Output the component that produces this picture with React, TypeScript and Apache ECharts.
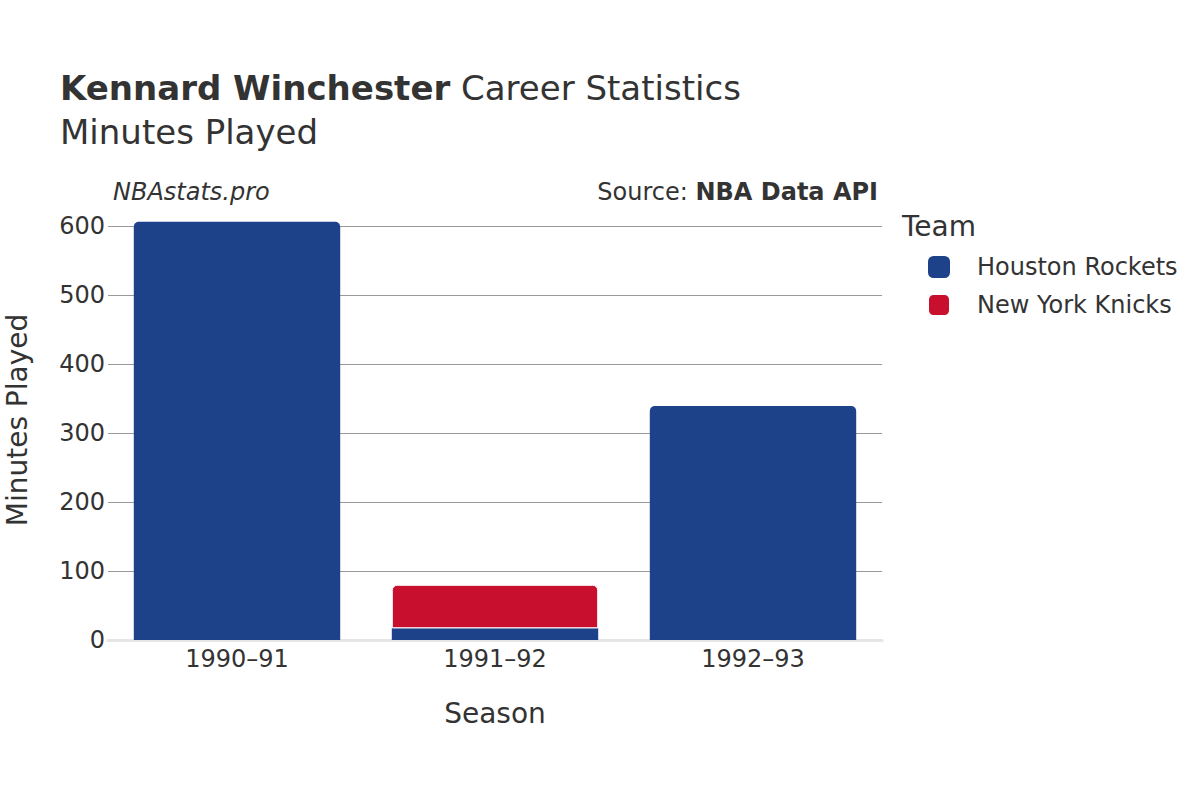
import React, { useEffect, useRef } from "react";
import * as echarts from "echarts";

const seasons = ["1990–91", "1991–92", "1992–93"];
const houston = [606, 17, 339];
const knicks = [0, 63, 0];
const yTicks = [0, 100, 200, 300, 400, 500, 600];

const FONT = "DejaVu Sans";

export default function App() {
  const ref = useRef<HTMLDivElement>(null);
  useEffect(() => {
    if (!ref.current) return;
    const chart = echarts.init(ref.current, null, { renderer: "svg" });
    const option: any = {
      animation: false,
      textStyle: { fontFamily: FONT },
      grid: { left: 108, right: 318, top: 226, bottom: 160, containLabel: false },
      title: {
        left: 60,
        top: 66,
        padding: 0,
        text: "{b|Kennard Winchester} Career Statistics\nMinutes Played",
        textStyle: {
          fontFamily: FONT,
          fontSize: 34,
          color: "#333",
          lineHeight: 44,
          fontWeight: "normal",
          rich: { b: { fontFamily: FONT, fontSize: 34, fontWeight: "bold", color: "#333", lineHeight: 44 } },
        },
      },
      graphic: [
        { type: "text", left: 113, top: 180, style: { text: "NBAstats.pro", font: `italic 24px '${FONT}'`, fill: "#333" } },
        {
          type: "text",
          right: 322,
          top: 180,
          style: {
            text: "{a|Source: }{b|NBA Data API}",
            rich: {
              a: { fontFamily: FONT, fontSize: 24, fill: "#333" },
              b: { fontFamily: FONT, fontSize: 24, fontWeight: "bold", fill: "#333" },
            },
          },
        },
        { type: "text", left: 902, top: 212, style: { text: "Team", font: `28px '${FONT}'`, fill: "#333" } },
        {
          type: "text",
          x: 17,
          y: 420,
          rotation: Math.PI / 2,
          style: { text: "Minutes Played", font: `28px '${FONT}'`, fill: "#333", align: "center", verticalAlign: "middle" },
        },
      ],
      legend: {
        orient: "vertical",
        left: 927,
        top: 255,
        padding: 0,
        itemWidth: 22,
        itemHeight: 22,
        itemGap: 14,
        icon: "roundRect",
        data: ["Houston Rockets", "New York Knicks"],
        textStyle: { fontFamily: FONT, fontSize: 24, color: "#333", padding: [0, 0, 0, 22] },
      },
      xAxis: {
        type: "category",
        data: seasons,
        name: "Season",
        nameLocation: "middle",
        nameGap: 59,
        nameTextStyle: { fontFamily: FONT, fontSize: 28, color: "#333" },
        axisLine: { show: true, lineStyle: { color: "#e5e5e5", width: 3 } },
        axisTick: { show: false },
        axisLabel: { fontFamily: FONT, fontSize: 24, color: "#333", margin: 7 },
      },
      yAxis: {
        type: "value",
        min: 0,
        max: 600,
        interval: 100,
        axisLine: { show: false },
        axisTick: { show: false },
        axisLabel: {
          fontFamily: FONT,
          fontSize: 24,
          color: "#333",
          margin: 3,
          customValues: yTicks,
        },
        splitLine: { lineStyle: { color: "#999", width: 1 } },
      },
      series: [
        {
          name: "Houston Rockets",
          type: "bar",
          stack: "t",
          clip: false,
          barCategoryGap: "20%",
          itemStyle: { color: "#1D428A", borderColor: "#fff", borderWidth: 0 },
          data: houston.map((v, i) => ({
            value: v,
            itemStyle: knicks[i] > 0 ? { borderRadius: 0 } : { borderRadius: [5, 5, 0, 0] },
          })),
        },
        {
          name: "New York Knicks",
          type: "bar",
          stack: "t",
          clip: false,
          itemStyle: { color: "#C8102E", borderColor: "#fff", borderWidth: 1, borderRadius: [5, 5, 0, 0] },
          data: knicks.map((v) => (v > 0 ? v : null)),
        },
      ],
    };
    chart.setOption(option);
    return () => chart.dispose();
  }, []);
  return <div ref={ref} style={{ width: 1200, height: 800, position: "absolute", left: 0, top: 0 }} />;
}
